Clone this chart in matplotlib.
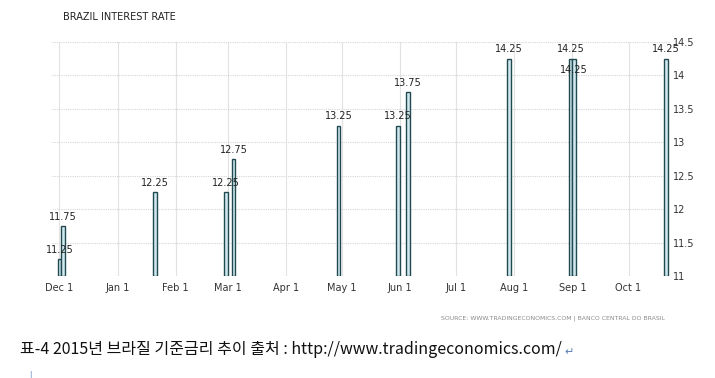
import pandas as pd
import matplotlib
matplotlib.use('Agg')
import matplotlib.pyplot as plt

# Brazil policy rate decisions
dates = ['2014-12-01', '2014-12-03', '2015-01-21', '2015-02-28', '2015-03-04',
         '2015-04-29', '2015-05-31', '2015-06-05', '2015-07-29', '2015-08-31',
         '2015-09-02', '2015-10-21']
rates = [11.25, 11.75, 12.25, 12.25, 12.75, 13.25, 13.25, 13.75, 14.25, 14.25,
         14.25, 14.25]

tick_dates = ['2014-12-01', '2015-01-01', '2015-02-01', '2015-03-01', '2015-04-01',
              '2015-05-01', '2015-06-01', '2015-07-01', '2015-08-01', '2015-09-01',
              '2015-10-01']
tick_labels = ['Dec 1', 'Jan 1', 'Feb 1', 'Mar 1', 'Apr 1', 'May 1', 'Jun 1',
               'Jul 1', 'Aug 1', 'Sep 1', 'Oct 1']
y_ticks = [11, 11.5, 12, 12.5, 13, 13.5, 14, 14.5]
y_labels = ['11', '11.5', '12', '12.5', '13', '13.5', '14', '14.5']

title = 'BRAZIL INTEREST RATE'
source = 'SOURCE: WWW.TRADINGECONOMICS.COM | BANCO CENTRAL DO BRASIL'
caption = '표-4 2015년 브라질 기준금리 추이 출처 : http://www.tradingeconomics.com/'

df = pd.DataFrame({'Date': pd.to_datetime(dates), 'Rate': rates})

fig = plt.figure(figsize=(7.15, 3.78), dpi=100)
ax = fig.add_axes([0.0727, 0.270, 0.864, 0.619])

base = 11
ax.bar(df['Date'], df['Rate'] - base, bottom=base, width=2.0,
       color='#cfe7ed', edgecolor='#214a50', linewidth=1.0, zorder=3)

# value labels; a repeated value right next to the previous one goes below the bar top
prev = None
for d, r in zip(df['Date'], df['Rate']):
    off = 4.5
    if prev is not None and (d - prev[0]).days < 5 and r == prev[1]:
        off = -10
    ax.annotate(f'{r:.2f}', xy=(d, r), xytext=(0, off), textcoords='offset points',
                ha='center', va='baseline', fontsize=7, color='#222222', zorder=4)
    prev = (d, r)

ax.set_xlim(pd.Timestamp('2014-11-27'), pd.Timestamp('2015-10-23'))
ax.set_ylim(11, 14.5)
ax.set_xticks(pd.to_datetime(tick_dates))
ax.set_xticklabels(tick_labels)
ax.set_yticks(y_ticks)
ax.set_yticklabels(y_labels)
ax.yaxis.tick_right()
ax.tick_params(axis='both', length=0, labelsize=7, colors='#333333')
ax.tick_params(axis='x', pad=5)
ax.tick_params(axis='y', pad=2)

for s in ax.spines.values():
    s.set_visible(False)
ax.grid(True, axis='x', color='#e2e2e2', linewidth=0.8, zorder=0)
ax.grid(True, axis='y', color='#d6d6d6', linewidth=0.8, linestyle=(0, (1, 1)), zorder=0)

fig.text(63 / 715, 1 - 17 / 378, title, fontsize=7, color='#222222',
         ha='left', va='center')
fig.text(665 / 715, 1 - 318 / 378, source, fontsize=4.4, color='#8a8a8a',
         ha='right', va='center')
cap = fig.text(20 / 715, 1 - 350 / 378, caption, fontsize=11.5,
               family=['Noto Sans CJK KR', 'DejaVu Sans'], color='#111111',
               ha='left', va='center')

# return mark placed right after the caption text
fig.canvas.draw()
bb = cap.get_window_extent()
fig.text((bb.x1 + 3) / 715, 1 - 352 / 378, '↵', fontsize=8, family='DejaVu Sans',
         color='#5b7fb5', ha='left', va='center')
fig.text(30 / 715, 1 - 374 / 378, '|', fontsize=5, color='#5b7fb5',
         ha='center', va='center')

fig.savefig('out.png', dpi=100)
